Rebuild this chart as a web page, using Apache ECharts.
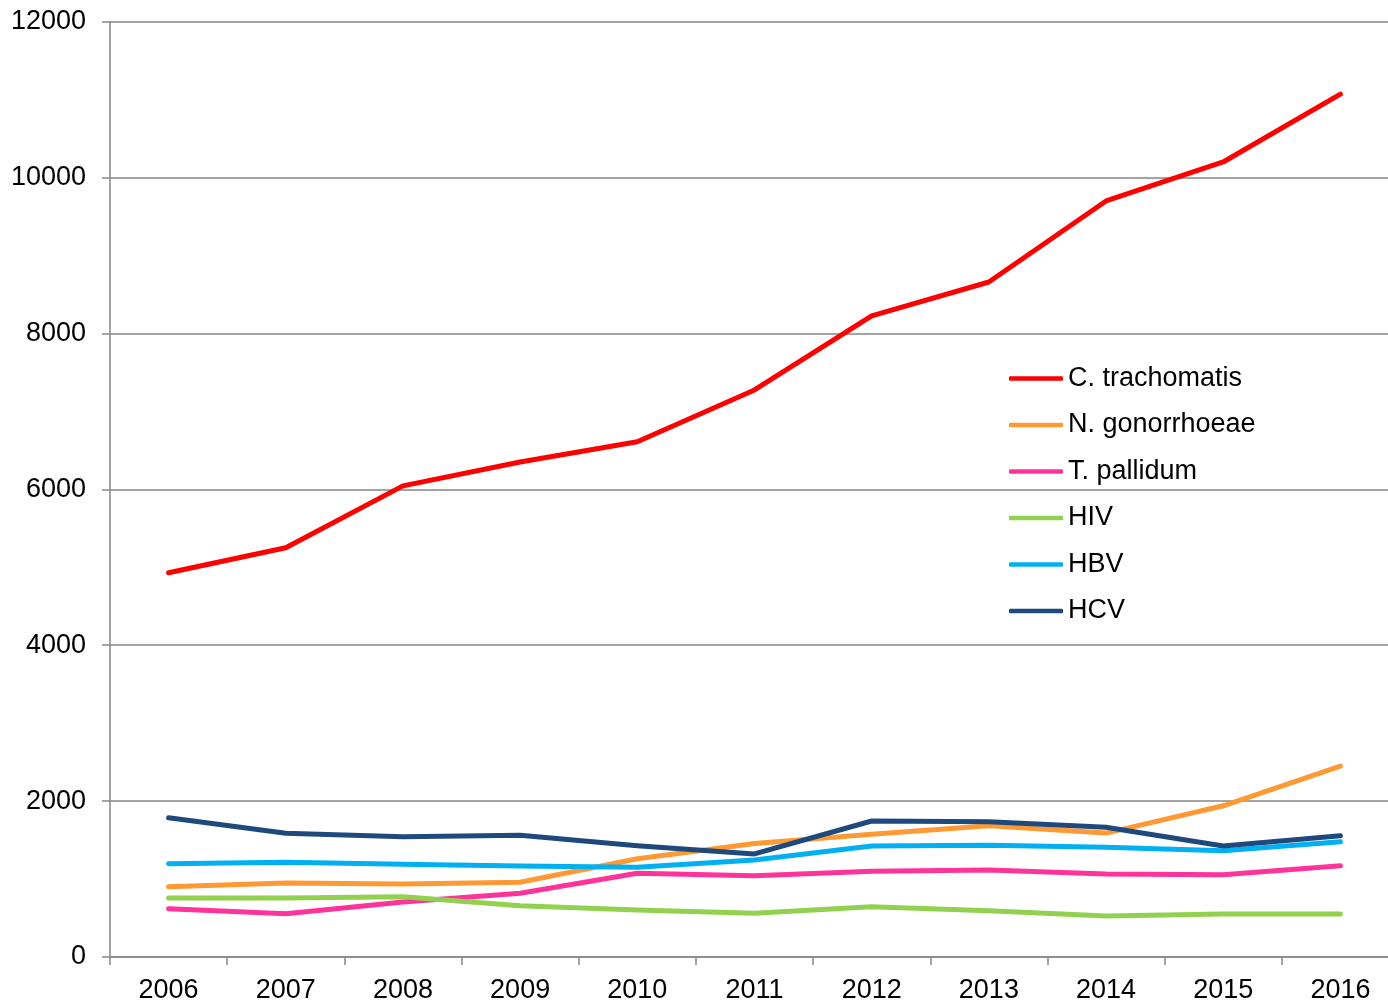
<!DOCTYPE html>
<html>
<head>
<meta charset="utf-8">
<script src="https://cdn.jsdelivr.net/npm/echarts@6/dist/echarts.min.js"></script>
<style>
html,body{margin:0;padding:0;background:#fff;overflow:hidden;}
#chart{width:1388px;height:1003px;}
</style>
</head>
<body>
<div id="chart"></div>
<script>
const years = ['2006','2007','2008','2009','2010','2011','2012','2013','2014','2015','2016'];
const seriesNames = ['C. trachomatis','N. gonorrhoeae','T. pallidum','HIV','HBV','HCV'];
const cTrachomatis = [4930, 5250, 6045, 6350, 6610, 7275, 8225, 8660, 9700, 10200, 11070];
const nGonorrhoeae = [900, 950, 935, 960, 1260, 1455, 1575, 1685, 1590, 1940, 2450];
const tPallidum = [620, 556, 706, 817, 1074, 1043, 1100, 1116, 1065, 1056, 1171];
const hiv = [757, 757, 774, 658, 603, 561, 645, 594, 526, 552, 552];
const hbv = [1197, 1215, 1189, 1168, 1151, 1245, 1424, 1433, 1407, 1364, 1480];
const hcv = [1787, 1587, 1544, 1561, 1428, 1322, 1745, 1736, 1664, 1424, 1556];
const colors = ['#ff0000', '#ff9933', '#ff3399', '#92d050', '#00b0f0', '#1f497d'];
const yTicks = [0, 2000, 4000, 6000, 8000, 10000, 12000];

const dataSets = [cTrachomatis, nGonorrhoeae, tPallidum, hiv, hbv, hcv];
const font = '"Liberation Sans", Arial, sans-serif';

const chart = echarts.init(document.getElementById('chart'));
chart.setOption({
  animation: false,
  backgroundColor: '#fff',
  color: colors,
  grid: { left: 110, top: 21.7, width: 1289, bottom: 46, containLabel: false, outerBoundsMode: 'none' },
  legend: {
    orient: 'vertical',
    left: 1004,
    top: 360,
    icon: 'roundRect',
    itemWidth: 54,
    itemHeight: 4.5,
    itemGap: 19.5,
    textStyle: { fontSize: 27, color: '#000', fontFamily: font },
    data: seriesNames
  },
  xAxis: {
    type: 'category',
    data: years,
    boundaryGap: true,
    axisLine: { lineStyle: { color: '#868686', width: 1.5 } },
    axisTick: { show: true, length: 8, lineStyle: { color: '#868686', width: 1.5 } },
    axisLabel: { fontSize: 27, color: '#000', fontFamily: font, margin: 20, interval: 0 },
    splitLine: { show: false }
  },
  yAxis: {
    type: 'value',
    min: yTicks[0],
    max: yTicks[yTicks.length - 1],
    interval: 2000,
    axisLine: { show: true, lineStyle: { color: '#868686', width: 1.5 } },
    axisTick: { show: true, length: 8, lineStyle: { color: '#868686', width: 1.5 } },
    axisLabel: { fontSize: 27, color: '#000', fontFamily: font, margin: 24, formatter: v => String(v) },
    splitLine: { show: true, lineStyle: { color: '#868686', width: 1.5 } }
  },
  series: seriesNames.map((name, i) => ({
    name: name,
    type: 'line',
    data: dataSets[i],
    symbol: 'none',
    lineStyle: { width: 5, color: colors[i], cap: 'round', join: 'round' },
    itemStyle: { color: colors[i] }
  }))
});
</script>
</body>
</html>
